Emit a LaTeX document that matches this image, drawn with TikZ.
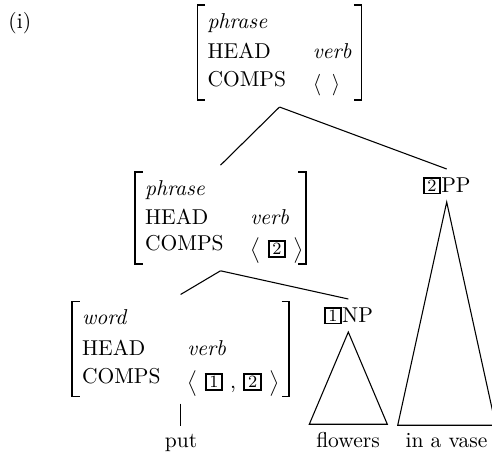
\documentclass[tikz,border=0pt]{standalone}
\usetikzlibrary{calc}
\newcommand\tg[1]{{\setlength\fboxrule{0.9pt}\setlength\fboxsep{0pt}\fbox{\makebox[6.8pt]{\rule[-0.1pt]{0pt}{6.5pt}\raisebox{0.6pt}{\footnotesize #1}}}}}
\newcommand\avmtab[5]{\begin{tabular}{@{}l@{\hspace{12.4pt}}l@{}}\textit{#1}\\[#4]HEAD & \textit{#2}\\[#5]COMPS & #3\end{tabular}}
\begin{document}
\begin{tikzpicture}[x=0.465pt,y=-0.465pt,
  avm/.style={inner xsep=4.4pt,inner ysep=5.55pt},
  brk/.style={line width=0.8pt},
  edge/.style={line width=0.5pt}]
\useasboundingbox (0,0) rectangle (492,452);
\clip (0,0) rectangle (492,452);
\node[anchor=base west,inner sep=0pt] (ex) at (8,28.5) {(i)};
\node[avm] (top) at (279.5,52.5) {\avmtab{phrase}{verb}{\raisebox{-1.5pt}[0pt][0pt]{$\langle\ \,\rangle$}}{2.2pt}{1pt}};
\node[avm] (mid) at (220.5,218) {\avmtab{phrase}{verb}{\raisebox{-2.5pt}[0pt][0pt]{$\bigl\langle$ \tg{2} $\bigr\rangle$\hspace{-3.5pt}}}{1.6pt}{0pt}};
\node[avm] (word) at (180.6,349) {\avmtab{word}{verb}{\raisebox{-2.5pt}[0pt][0pt]{$\bigl\langle$ \tg{1} , \tg{2} $\bigr\rangle$}}{2.2pt}{1pt}};
\node[anchor=base] (pp) at (446.7,192.3) {\tg{2}PP};
\node[anchor=base] (np) at (348.3,322.3) {\tg{1}NP};
\node[anchor=base] (put) at (181,447) {put};
\node[anchor=base] (flowers) at (348,447) {flowers};
\node[anchor=base] (vase) at (446.5,447) {in a vase};
\foreach \n in {top,mid,word}{
  \draw[brk] ([xshift=3.5pt,yshift=-3.25pt]\n.north west) -- ([yshift=-3.25pt]\n.north west) -- ([yshift=3.25pt]\n.south west) -- ([xshift=3.5pt,yshift=3.25pt]\n.south west);
  \draw[brk] ([xshift=-3.5pt,yshift=-3.25pt]\n.north east) -- ([yshift=-3.25pt]\n.north east) -- ([yshift=3.25pt]\n.south east) -- ([xshift=-3.5pt,yshift=3.25pt]\n.south east);
}
\draw[edge] (top.south) -- (mid.north);
\draw[edge] (top.south) -- (pp.north);
\draw[edge] (mid.south) -- (word.north);
\draw[edge] (mid.south) -- (np.north);
\draw[edge] (word.south) -- (word.south |- put.north);
\draw[edge] (np.south) -- ($(np.south |- flowers.north)+(-39,0)$) -- ($(np.south |- flowers.north)+(39,0)$) -- cycle;
\draw[edge] (pp.south) -- ($(pp.south |- vase.north)+(-49,0)$) -- ($(pp.south |- vase.north)+(49,0)$) -- cycle;
\end{tikzpicture}
\end{document}
